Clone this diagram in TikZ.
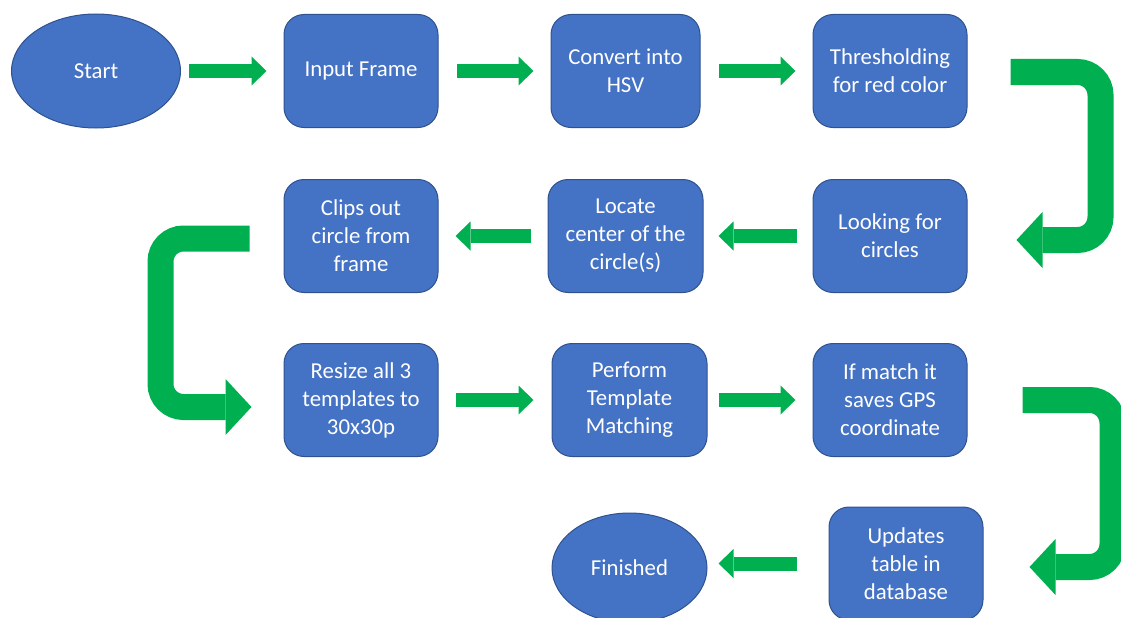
\documentclass[tikz,border=0pt]{standalone}
\usepackage{fontspec}
\setmainfont{Carlito}
\definecolor{boxBlue}{HTML}{4472C4}
\definecolor{boxEdge}{HTML}{2F528F}
\definecolor{flowGreen}{HTML}{00B050}
\usetikzlibrary{arrows.meta, shapes.geometric}

\begin{document}
\begin{tikzpicture}[
  x=1pt, y=-1pt,
  box/.style={draw=boxEdge, line width=1pt, fill=boxBlue, rounded corners=20pt, text=white,
    minimum width=154pt, minimum height=113pt, align=center, inner sep=2pt,
    font=\fontsize{22.8}{28}\selectfont},
  term/.style={box, ellipse, rounded corners=0pt},
  flow/.style={draw=flowGreen, line width=14pt,
    -{Triangle[length=15pt, width=29pt, line width=0pt]}},
  uturn/.style={draw=flowGreen, line width=26pt, rounded corners=23pt,
    -{Triangle[length=26pt, width=56pt, line width=0pt]}},
]
  \useasboundingbox (0,0) rectangle (1121,618);
  \clip (0,0) rectangle (1121,618);

  % first row
  \node[term, minimum width=169pt, minimum height=114pt] (start) at (96,71) {Start};
  \node[box] (inp) at (361,71) {Input Frame};
  \node[box, minimum width=149pt] (hsv) at (625.5,71) {Convert into\\HSV};
  \node[box] (thr) at (890,71) {Thresholding\\for red color};

  % second row
  \node[box] (look) at (890,236) {Looking for\\circles};
  \node[box, minimum width=155pt] (loc) at (625.5,236) {Locate\\center of the\\circle(s)};
  \node[box] (clip) at (361,236) {Clips out\\circle from\\frame};

  % third row
  \node[box] (resize) at (361,400) {Resize all 3\\templates to\\30x30p};
  \node[box, minimum width=155pt] (perf) at (629.5,400) {Perform\\Template\\Matching};
  \node[box] (match) at (890,400) {If match it\\saves GPS\\coordinate};

  % last row
  \node[box] (upd) at (906,563.5) {Updates\\table in\\database};
  \node[term, minimum width=155pt, minimum height=110pt] (fin) at (629.5,568) {Finished};

  % straight arrows
  \draw[flow] ([xshift=8pt]start.east) -- ([xshift=-17pt]inp.west);
  \draw[flow] ([xshift=18pt]inp.east) -- ([xshift=-17pt]hsv.west);
  \draw[flow] ([xshift=18pt]hsv.east) -- ([xshift=-17pt]thr.west);
  \draw[flow] ([xshift=-16pt]look.west) -- ([xshift=15pt]loc.east);
  \draw[flow] ([xshift=-17pt]loc.west) -- ([xshift=17pt]clip.east);
  \draw[flow] ([xshift=17pt]resize.east) -- ([xshift=-18pt]perf.west);
  \draw[flow] ([xshift=11pt]perf.east) -- ([xshift=-17pt]match.west);
  \draw[flow] ([xshift=-32pt]upd.west) -- ([xshift=11pt,yshift=4.5pt]fin.east);

  % bent arrows between rows
  \draw[uturn] ([xshift=43pt,yshift=-1pt]thr.east) -- ++(90,0) |- ([xshift=49pt,yshift=-4pt]look.east);
  \draw[uturn] ([xshift=-34pt,yshift=-2.5pt]clip.west) -- ++(-89,0) |- ([xshift=-32pt,yshift=-7pt]resize.west);
  \draw[uturn] ([xshift=55pt]match.east) -- ++(90,0) |- ([xshift=46pt,yshift=-3.5pt]upd.east);
\end{tikzpicture}
\end{document}
